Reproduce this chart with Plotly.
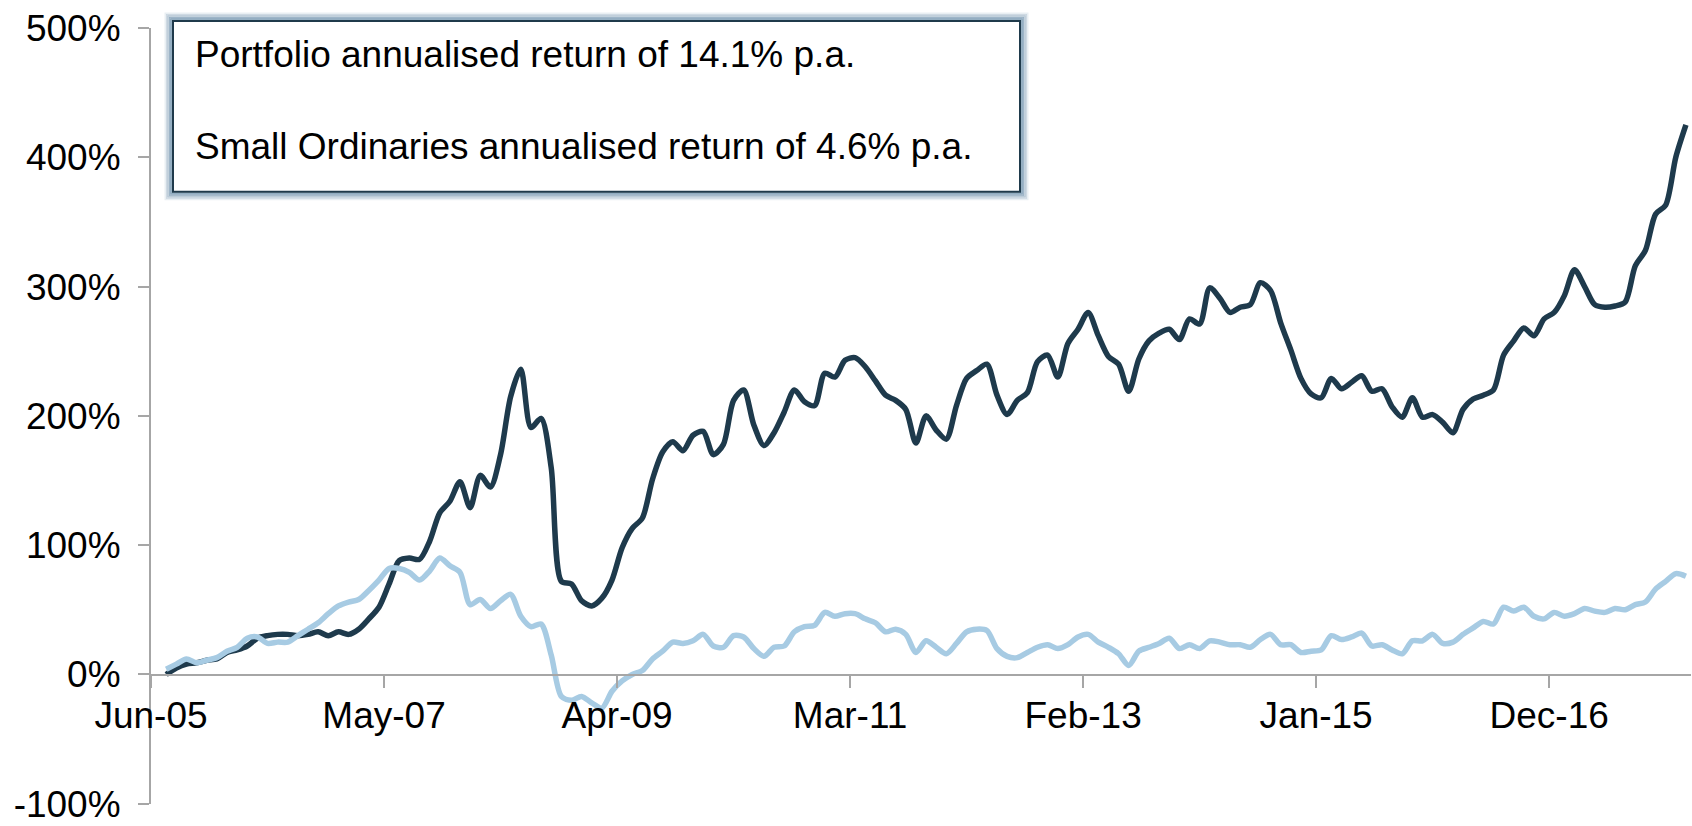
import plotly.graph_objects as go

# Monthly categories: Jul-05 .. Jan-18 (151 months), plotted between tick marks
first_month = (2005, 7)
n_months = 151

portfolio = [
    0, 5, 8, 9, 11, 12, 17, 19, 22, 28, 30, 31, 31, 30, 31, 33, 30, 33, 31, 35,
    43, 52, 70, 88, 90, 89, 103, 125, 134, 149, 129, 154, 145, 170, 215, 236, 191, 198, 160, 72,
    70, 57, 53, 59, 73, 98, 113, 121, 151, 172, 180, 173, 185, 188, 170, 178, 212, 220, 193, 177,
    187, 203, 220, 211, 208, 233, 230, 243, 245, 238, 227, 216, 212, 205, 179, 200, 189, 182, 208, 229,
    235, 240, 216, 201, 212, 218, 242, 247, 230, 256, 267, 280, 262, 246, 240, 219, 244, 258, 264, 267,
    259, 275, 271, 299, 291, 280, 284, 286, 303, 297, 272, 251, 229, 217, 214, 229, 221, 226, 231, 219,
    221, 207, 199, 214, 199, 201, 195, 187, 205, 213, 216, 220, 247, 258, 268, 262, 275, 280, 293, 313,
    300, 286, 284, 285, 288, 316, 328, 356, 363, 400, 425,
]

small_ords = [
    4, 8, 12, 9, 11, 13, 18, 21, 28, 29, 24, 25, 25, 30, 35, 40, 47, 53, 56, 58,
    65, 73, 82, 82, 79, 73, 80, 90, 84, 79, 54, 58, 51, 57, 62, 45, 37, 39, 15, -17,
    -20, -17, -22, -26, -13, -5, 0, 3, 12, 18, 25, 24, 26, 31, 22, 21, 30, 29, 20, 14,
    21, 22, 33, 37, 38, 48, 45, 47, 47, 43, 40, 33, 35, 31, 17, 26, 21, 16, 24, 33,
    35, 34, 20, 14, 13, 17, 21, 23, 20, 23, 29, 31, 25, 21, 16, 7, 18, 21, 24, 28,
    20, 23, 20, 26, 25, 23, 23, 21, 27, 31, 23, 23, 17, 18, 19, 30, 27, 29, 32, 22,
    23, 19, 16, 26, 26, 31, 24, 25, 31, 36, 41, 39, 52, 49, 52, 45, 43, 48, 45, 47,
    51, 49, 48, 51, 50, 54, 56, 66, 72, 78, 76,
]

tick_labels = ["Jun-05", "May-07", "Apr-09", "Mar-11", "Feb-13", "Jan-15", "Dec-16"]
y_ticks = [-100, 0, 100, 200, 300, 400, 500]
y_tick_text = [f"{v}%" for v in y_ticks]

box_lines = [
    "Portfolio annualised return of 14.1% p.a.",
    "Small Ordinaries annualised return of 4.6% p.a.",
]

MONTHS = {"Jan": 1, "Feb": 2, "Mar": 3, "Apr": 4, "May": 5, "Jun": 6,
          "Jul": 7, "Aug": 8, "Sep": 9, "Oct": 10, "Nov": 11, "Dec": 12}
base_y, base_m = 2005, 6  # axis origin (Jun-05)


def month_index(year, month):
    return (year - base_y) * 12 + (month - base_m)


start_idx = month_index(*first_month)
x_vals = [start_idx + i + 0.5 for i in range(n_months)]

tick_vals = []
for lab in tick_labels:
    mon, yy = lab.split("-")
    tick_vals.append(month_index(2000 + int(yy), MONTHS[mon]))

DARK = "#1e3a4c"
LIGHT = "#a7cbe3"
AXIS = "#a6a6a6"
FONT = "Liberation Sans, Arial, sans-serif"
FS = 37

fig = go.Figure()
fig.add_trace(go.Scatter(x=x_vals, y=portfolio, mode="lines",
                         line=dict(color=DARK, width=5.5, shape="spline", smoothing=0.8),
                         name="Portfolio", hoverinfo="skip"))
fig.add_trace(go.Scatter(x=x_vals, y=small_ords, mode="lines",
                         line=dict(color=LIGHT, width=5.5, shape="spline", smoothing=0.8),
                         name="Small Ordinaries", hoverinfo="skip"))

W, H = 1692, 826
ml, mr, mt, mb = 151, 1, 28, 16
pw, ph = W - ml - mr, H - mt - mb


def px(xp):
    return (xp - ml) / pw


def py(yp):
    return (H - mb - yp) / ph


# text box with soft glow
bx0, by0, bx1, by1 = 173, 21, 1020, 193
shapes = []
for off, alpha in [(7.5, 0.15), (6, 0.28), (4.5, 0.42), (3, 0.58), (1.5, 0.72)]:
    shapes.append(dict(type="rect", xref="paper", yref="paper",
                       x0=px(bx0 - off), x1=px(bx1 + off), y0=py(by1 + off), y1=py(by0 - off),
                       line=dict(color=f"rgba(110,145,172,{alpha})", width=2),
                       fillcolor="rgba(0,0,0,0)", layer="above"))
shapes.append(dict(type="rect", xref="paper", yref="paper",
                   x0=px(bx0), x1=px(bx1), y0=py(by1), y1=py(by0),
                   line=dict(color="#1f3a4b", width=2), fillcolor="white", layer="above"))

annotations = []
for i, txt in enumerate(box_lines):
    annotations.append(dict(text=txt, xref="paper", yref="paper", x=px(193), y=py(55 + i * 92),
                            xanchor="left", yanchor="middle", showarrow=False,
                            font=dict(family=FONT, size=FS, color="black")))

fig.update_layout(
    width=W, height=H, margin=dict(l=ml, r=mr, t=mt, b=mb),
    paper_bgcolor="white", plot_bgcolor="white", showlegend=False,
    font=dict(family=FONT, size=FS, color="black"),
    shapes=shapes, annotations=annotations,
    xaxis=dict(range=[0, 152], tickmode="array", tickvals=tick_vals, ticktext=tick_labels,
               showgrid=False, zeroline=False, showline=True, linecolor=AXIS, linewidth=2,
               ticks="outside", ticklen=12, tickwidth=2, tickcolor=AXIS,
               anchor="free", position=1 / 6, ticklabelstandoff=-4,
               ticklabeloverflow="allow",
               tickfont=dict(family=FONT, size=FS, color="black")),
    yaxis=dict(range=[-100.2, 500], tickmode="array", tickvals=y_ticks, ticktext=y_tick_text,
               showgrid=False, zeroline=False, showline=True, linecolor=AXIS, linewidth=2,
               ticks="outside", ticklen=11, tickwidth=2, tickcolor=AXIS,
               ticklabelstandoff=10, ticklabeloverflow="allow",
               tickfont=dict(family=FONT, size=FS, color="black")),
)

fig.write_html("out.html", config={"staticPlot": True},
               post_script="document.body.style.margin='0';document.body.style.overflow='hidden';")
